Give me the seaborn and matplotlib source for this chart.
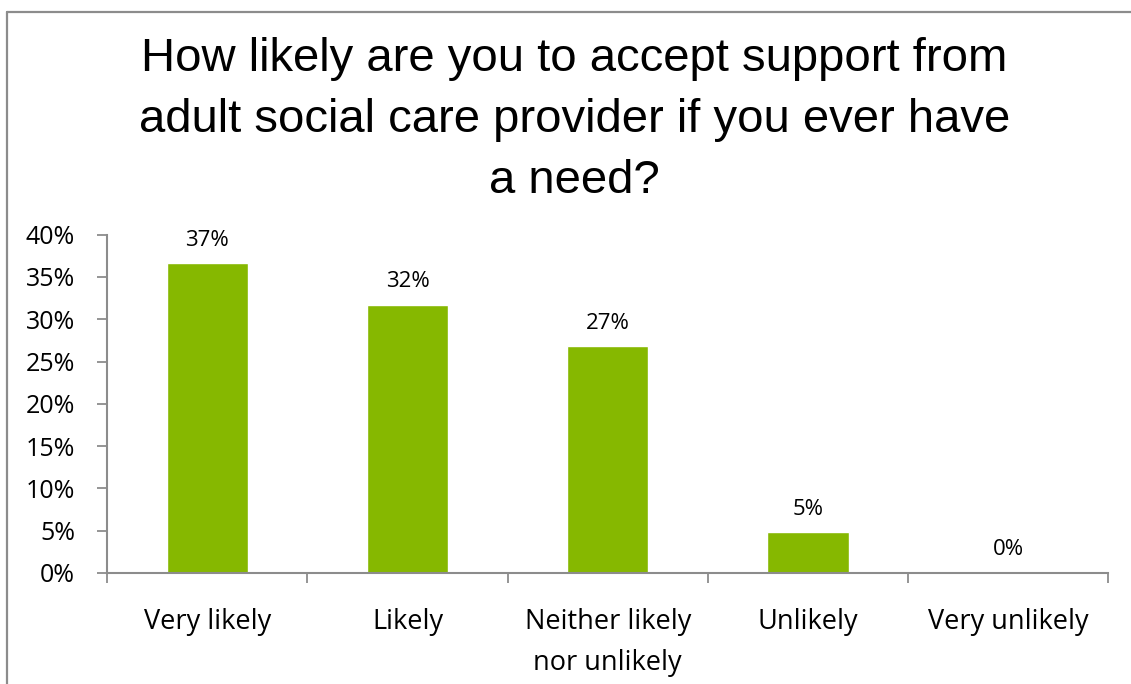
import matplotlib
matplotlib.use("Agg")
import matplotlib.pyplot as plt
from matplotlib.lines import Line2D
import seaborn as sns
import pandas as pd

# Survey responses (share of respondents, %)
categories = ["Very likely", "Likely", "Neither likely\nnor unlikely", "Unlikely", "Very unlikely"]
shares = [36.6, 31.7, 26.8, 4.8, 0.0]
y_ticks = [0, 5, 10, 15, 20, 25, 30, 35, 40]
title = "How likely are you to accept support from\nadult social care provider if you ever have\na need?"

df = pd.DataFrame({"response": categories, "share": shares})

sns.set_theme(style="white")
plt.rcParams["font.family"] = ["Open Sans", "DejaVu Sans"]

GREEN = "#86B800"
AXIS_GREY = "#8C8C8C"

fig = plt.figure(figsize=(11.31, 6.84), dpi=100)
ax = fig.add_axes([0.0946, 0.1623, 0.8855, 0.4946])

sns.barplot(data=df, x="response", y="share", color=GREEN, width=0.405,
            saturation=1, ax=ax, order=categories)

ax.set_xlim(-0.5, len(categories) - 0.5)
ax.set_ylim(0, 40)
ax.set_xlabel("")
ax.set_ylabel("")

ax.set_yticks(y_ticks)
ax.set_yticklabels([f"{v}%" for v in y_ticks], fontsize=18, color="black")
ax.tick_params(axis="y", which="major", length=7, width=1.3, color=AXIS_GREY,
               pad=16, left=True, direction="out")

# category labels centred, boundary ticks between categories
ax.set_xticks(range(len(categories)))
ax.set_xticklabels(categories, fontsize=19.5, color="black", linespacing=1.62)
ax.tick_params(axis="x", which="major", length=0, pad=25)
ax.set_xticks([i - 0.5 for i in range(len(categories) + 1)], minor=True)
ax.tick_params(axis="x", which="minor", length=7, width=1.3, color=AXIS_GREY,
               bottom=True, direction="out")

for side in ["top", "right"]:
    ax.spines[side].set_visible(False)
for side in ["left", "bottom"]:
    ax.spines[side].set_color(AXIS_GREY)
    ax.spines[side].set_linewidth(1.5)

# value labels above bars
for i, v in enumerate(shares):
    ax.annotate(f"{v:.0f}%", xy=(i, v), xytext=(0, 9), textcoords="offset points",
                ha="center", va="bottom", fontsize=16, color="black")

fig.text(0.508, 0.946, title, ha="center", va="top", fontsize=34,
         family=["Liberation Sans", "DejaVu Sans"], linespacing=1.5, color="black")

# chart frame (left and top edges)
fig.add_artist(Line2D([6.5 / 1131, 6.5 / 1131], [0, 1 - 11.5 / 684],
                      transform=fig.transFigure, color=AXIS_GREY, linewidth=1.6))
fig.add_artist(Line2D([6.5 / 1131, 1], [1 - 11.5 / 684, 1 - 11.5 / 684],
                      transform=fig.transFigure, color=AXIS_GREY, linewidth=1.6))

fig.savefig("out.png", dpi=100, facecolor="white")
